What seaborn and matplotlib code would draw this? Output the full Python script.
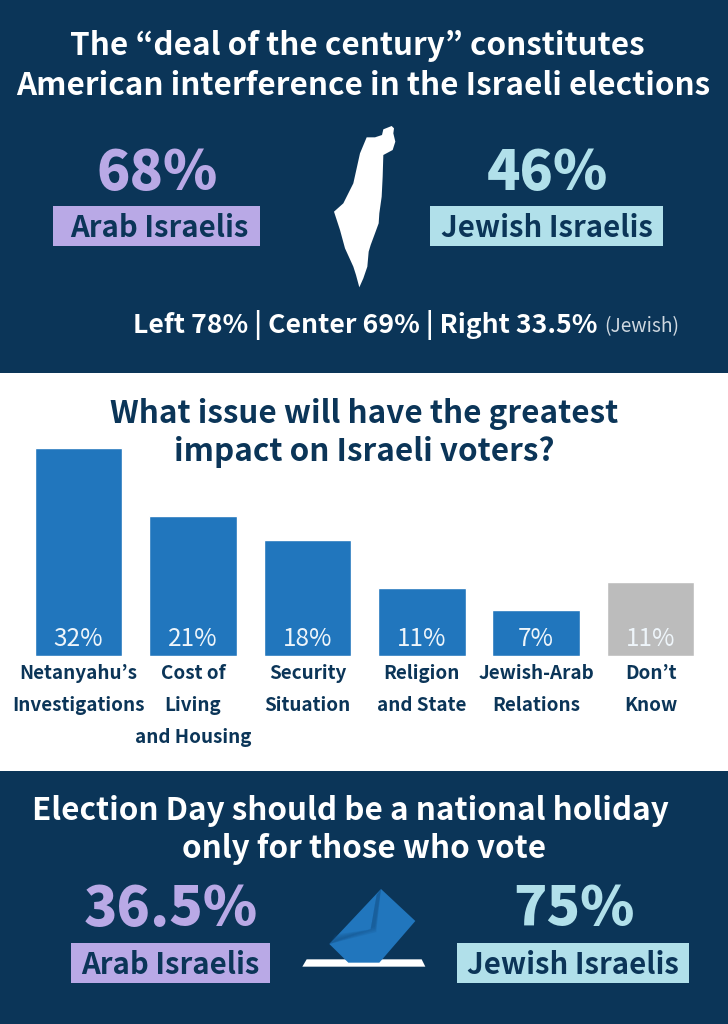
import matplotlib
matplotlib.use("Agg")
import matplotlib.pyplot as plt
from matplotlib.patches import Polygon, Rectangle
import pandas as pd
import seaborn as sns

NAVY = "#0b3558"
BLUE = "#2176bd"
GRAY = "#bcbcbc"
PURPLE = "#b9a9e6"
LIGHT = "#b1e0ea"
W, H = 728, 1024

sns.set_theme(style="white")
plt.rcParams['font.family'] = ['Noto Sans CJK JP', 'DejaVu Sans']

# bar heights, labels as printed on the bars
issues = pd.DataFrame({
    'issue': ["Netanyahu\u2019s\nInvestigations", "Cost of\nLiving\nand Housing", "Security\nSituation",
              "Religion\nand State", "Jewish-Arab\nRelations", "Don\u2019t\nKnow"],
    'height': [32, 21.5, 17.8, 10.4, 7.1, 11.4],
    'label': ["32%", "21%", "18%", "11%", "7%", "11%"],
})

fig = plt.figure(figsize=(W / 100, H / 100), dpi=100, facecolor="white")

# overlay in pixel coordinates, y pointing down
bg = fig.add_axes([0, 0, 1, 1], zorder=0)
bg.set_xlim(0, W)
bg.set_ylim(H, 0)
bg.axis("off")
bg.add_patch(Rectangle((0, 0), W, 373, color=NAVY, lw=0))
bg.add_patch(Rectangle((0, 771), W, 253, color=NAVY, lw=0))


def label(x, y, s, size, color="white", weight="bold", **kw):
    # the font sits a little high when centred
    bg.text(x, y + 3, s, fontsize=size, color=color, weight=weight, ha=kw.pop('ha', 'center'), va="center", **kw)


def stat(x, y, value, name, color, box, name_x=None, size=39.7):
    label(x, y, value, size, color=color, weight=900)
    x0, y0, x1, y1 = box
    bg.add_patch(Rectangle((x0, y0), x1 - x0, y1 - y0, color=color, lw=0))
    label(name_x or (x0 + x1) / 2, (y0 + y1) / 2 - 1, name, 21.1, color=NAVY)


# top panel
label(357, 43, "The \u201cdeal of the century\u201d constitutes", 22.6)
label(363, 83, "American interference in the Israeli elections", 22.6)
stat(157, 171, "68%", "Arab Israelis", PURPLE, (53, 206, 260, 246), name_x=159.5)
stat(547, 171, "46%", "Jewish Israelis", LIGHT, (430, 206, 663, 246))

israel = [(215, 48), (222, 55), (220, 70), (226, 95), (218, 120), (190, 135), (188, 200), (185, 260),
          (178, 310), (176, 340), (165, 370), (152, 405), (146, 425), (142, 470), (130, 505), (118, 532),
          (108, 495), (100, 470), (75, 415), (60, 360), (42, 305), (70, 280), (100, 220), (120, 130),
          (140, 82), (165, 82), (186, 75), (190, 58)]
bg.add_patch(Polygon([(320 + x / 3, 110 + y / 3) for x, y in israel], color="white", lw=0))

label(133, 322, "Left 78% | Center 69% | Right 33.5%", 19.2, ha="left")
label(604, 324, "(Jewish)", 13.8, color="#cfd8e0", weight="normal", ha="left")

# middle panel
label(364, 411, "What issue will have the greatest", 22.6, color=NAVY)
label(364, 449, "impact on Israeli voters?", 22.6, color=NAVY)

ax = fig.add_axes([21.4 / W, 1 - 656 / H, 686.4 / W, 208 / H], zorder=1)
sns.barplot(data=issues, x='issue', y='height', hue='issue', palette=[BLUE] * 5 + [GRAY],
            width=0.765, saturation=1, legend=False, ax=ax)
ax.set_xlim(-0.5, 5.5)
ax.set_ylim(0, 32)
ax.patch.set_alpha(0)
ax.set_xlabel("")
ax.set_ylabel("")
ax.set_yticks([])
sns.despine(ax=ax, left=True, bottom=True)
ax.tick_params(axis="x", length=0, pad=6)
for tick in ax.get_xticklabels():
    tick.set_fontsize(13.6)
    tick.set_fontweight("bold")
    tick.set_color(NAVY)
    tick.set_linespacing(1.85)
    tick.set_verticalalignment("top")
for i, txt in enumerate(issues['label']):
    ax.text(i, 2.6, txt, color="#eef5fa", fontsize=17.5, ha="center", va="center")

# bottom panel
label(350, 808, "Election Day should be a national holiday", 22.6)
label(364, 846, "only for those who vote", 22.6)
stat(171, 907, "36.5%", "Arab Israelis", PURPLE, (71, 943, 270, 983))
stat(574, 907, "75%", "Jewish Israelis", LIGHT, (457, 943, 689, 983))

# ballot icon
zoom = lambda pts: [(280 + x / 3, 870 + y / 3) for x, y in pts]
bg.add_patch(Polygon(zoom([(80, 268), (425, 268), (436, 290), (67, 290)]), color="white", lw=0))
bg.add_patch(Polygon(zoom([(303, 57), (406, 153), (298, 278), (205, 278), (148, 222)]), color=BLUE, lw=0))
# soft shadow under the flap
for d in (4, 9, 14, 19):
    bg.add_patch(Polygon(zoom([(303, 57), (290 - d * 0.3, 190 - d), (148, 222), (165, 205 + 8 - d), (272, 178), (290, 75)]),
                         color="#134f85", alpha=0.18, lw=0))

fig.savefig("out.png", dpi=100)
